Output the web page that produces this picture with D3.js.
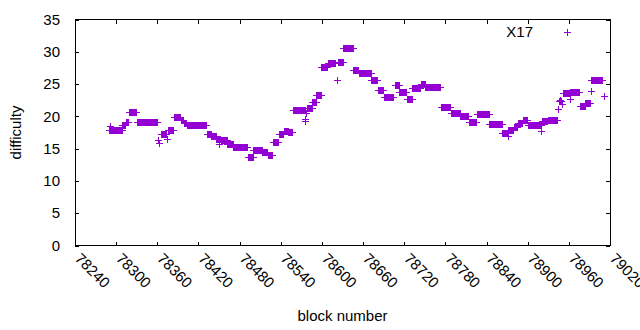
<!DOCTYPE html>
<html>
<head>
<meta charset="utf-8">
<script src="https://cdn.jsdelivr.net/npm/d3@7"></script>
<style>
  body { margin: 0; background: #fff; }
  svg { display: block; font-family: "Liberation Sans", Arial, sans-serif; }
</style>
</head>
<body>
<div id="chart"></div>
<script>
// runs of blocks that share the same difficulty: start block, end block, difficulty
const runStart = [78291, 78309, 78314, 78318, 78330, 78365, 78375, 78384, 78394, 78399, 78403,
  78432, 78439, 78446, 78453, 78462, 78471, 78492, 78500, 78513, 78521, 78528, 78537, 78544, 78551,
  78558, 78578, 78586, 78592, 78599, 78609, 78624, 78631, 78646, 78654, 78672, 78682, 78690, 78706,
  78713, 78724, 78732, 78744, 78751, 78773, 78788, 78802, 78814, 78826, 78844, 78863, 78872, 78880,
  78886, 78893, 78900, 78921, 78929, 78945, 78951, 78962, 78976, 78984, 78993];
const runEnd = [78308, 78313, 78317, 78329, 78359, 78372, 78383, 78393, 78398, 78402, 78431,
  78438, 78445, 78452, 78461, 78470, 78491, 78499, 78512, 78520, 78527, 78536, 78543, 78550, 78557,
  78575, 78585, 78591, 78598, 78608, 78619, 78630, 78645, 78653, 78671, 78681, 78689, 78704, 78712,
  78723, 78731, 78743, 78750, 78772, 78787, 78801, 78813, 78825, 78843, 78862, 78870, 78879, 78885,
  78892, 78899, 78919, 78928, 78943, 78948, 78960, 78975, 78983, 78991, 79008];
const runDiff = [17.9, 18.6, 19.2, 20.6, 19.1, 17.3, 17.9, 19.9, 19.5, 19.0, 18.7,
  17.3, 16.9, 16.5, 16.3, 15.7, 15.2, 13.7, 14.8, 14.5, 14.0, 16.1, 17.3, 17.8, 17.6,
  21.0, 21.3, 22.2, 23.3, 27.7, 28.3, 28.4, 30.6, 27.2, 26.7, 25.6, 24.1, 23.0, 24.8,
  23.8, 22.7, 24.4, 25.0, 24.5, 21.4, 20.5, 20.1, 19.2, 20.3, 18.8, 17.4, 17.9, 18.4,
  19.0, 19.4, 18.6, 19.3, 19.4, 22.4, 23.6, 23.7, 21.6, 22.1, 25.6];

// isolated blocks off their run
const singleBlock = [78289, 78291, 78361, 78362, 78374, 78450, 78575, 78576, 78577, 78622,
  78871, 78920, 78944, 78947, 78950, 78961, 78992, 79011];
const singleDiff = [17.9, 18.5, 16.3, 15.9, 16.5, 15.7, 19.3, 19.6, 20.5, 25.6,
  16.9, 17.8, 21.1, 22.5, 21.9, 22.7, 23.9, 23.2];

const xTicks = d3.range(78240, 79021, 60);
const yTicks = d3.range(0, 36, 5);

const color = "#9400d3";
const width = 640, height = 330;
const plotLeft = 75, plotRight = 610, plotTop = 19.5, plotBottom = 245.5;

const points = [];
runStart.forEach((s, i) => {
  d3.range(s, runEnd[i] + 1).forEach(b => points.push({ block: b, diff: runDiff[i] }));
});
singleBlock.forEach((b, i) => points.push({ block: b, diff: singleDiff[i] }));

const x = d3.scaleLinear().domain([78240, 79020]).range([plotLeft, plotRight]);
const y = d3.scaleLinear().domain([0, 35]).range([plotBottom, plotTop]);

const svg = d3.select("#chart").append("svg")
  .attr("width", width)
  .attr("height", height);

// ticks, mirrored on all four sides, pointing inward
svg.append("g")
  .attr("transform", `translate(0,${plotBottom})`)
  .call(d3.axisBottom(x).tickValues(xTicks).tickSizeInner(-4).tickSizeOuter(0).tickFormat(""))
  .call(g => g.select(".domain").remove());
svg.append("g")
  .attr("transform", `translate(0,${plotTop})`)
  .call(d3.axisTop(x).tickValues(xTicks).tickSizeInner(-4).tickSizeOuter(0).tickFormat(""))
  .call(g => g.select(".domain").remove());
svg.append("g")
  .attr("transform", `translate(${plotLeft},0)`)
  .call(d3.axisLeft(y).tickValues(yTicks).tickSizeInner(-4).tickSizeOuter(0).tickFormat(""))
  .call(g => g.select(".domain").remove());
svg.append("g")
  .attr("transform", `translate(${plotRight},0)`)
  .call(d3.axisRight(y).tickValues(yTicks).tickSizeInner(-4).tickSizeOuter(0).tickFormat(""))
  .call(g => g.select(".domain").remove());
svg.selectAll(".tick line").attr("stroke", "#000").attr("shape-rendering", "crispEdges");

// frame
svg.append("rect")
  .attr("x", plotLeft).attr("y", plotTop)
  .attr("width", plotRight - plotLeft).attr("height", plotBottom - plotTop)
  .attr("fill", "none").attr("stroke", "#000")
  .attr("shape-rendering", "crispEdges");

// y tick labels
svg.append("g").selectAll("text")
  .data(yTicks)
  .enter().append("text")
  .attr("x", 60)
  .attr("y", d => y(d))
  .attr("dy", "0.35em")
  .attr("text-anchor", "end")
  .attr("font-size", 15)
  .text(d => d);

// x tick labels, rotated
svg.append("g").selectAll("text")
  .data(xTicks)
  .enter().append("text")
  .attr("transform", d => `translate(${x(d) + 7},${plotBottom + 6}) rotate(45)`)
  .attr("dy", "0.75em")
  .attr("text-anchor", "start")
  .attr("font-size", 15)
  .text(d => d);

// axis titles
svg.append("text")
  .attr("transform", `translate(21,${(plotTop + plotBottom) / 2}) rotate(-90)`)
  .attr("text-anchor", "middle")
  .attr("font-size", 15)
  .text("difficulty");
svg.append("text")
  .attr("x", (plotLeft + plotRight) / 2)
  .attr("y", 321)
  .attr("text-anchor", "middle")
  .attr("font-size", 15)
  .text("block number");

const plus = "M-3.5,0H3.5M0,-3.5V3.5";

// data points
svg.append("g").selectAll("path")
  .data(points)
  .enter().append("path")
  .attr("transform", d => `translate(${Math.round(x(d.block)) + 0.5},${Math.round(y(d.diff)) + 0.5})`)
  .attr("d", plus)
  .attr("stroke", color)
  .attr("stroke-width", 1)
  .attr("fill", "none");

// legend
svg.append("text")
  .attr("x", 533)
  .attr("y", 32)
  .attr("dy", "0.35em")
  .attr("text-anchor", "end")
  .attr("font-size", 15)
  .text("X17");
svg.append("path")
  .attr("transform", "translate(567.5,32.5)")
  .attr("d", plus)
  .attr("stroke", color)
  .attr("fill", "none");
</script>
</body>
</html>
